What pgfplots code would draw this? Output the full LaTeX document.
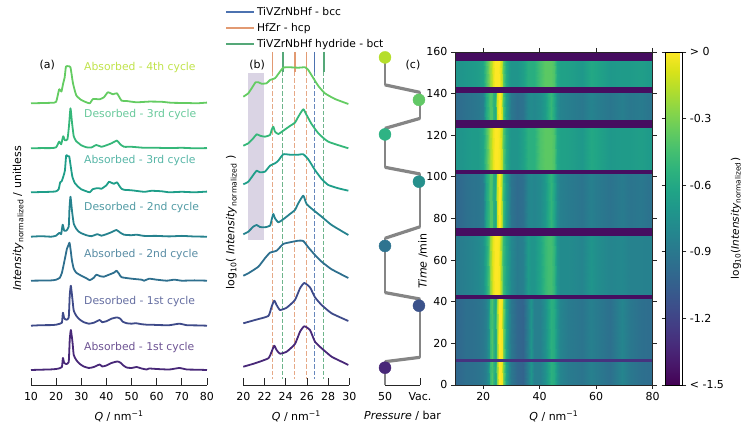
\documentclass[border=0pt]{standalone}
\usepackage{pgfplots}
\usepackage{pgfplotstable}
\usepackage{fontspec}
\setmainfont{DejaVu Sans}
\pgfplotsset{compat=1.18}
\definecolor{cA}{HTML}{482878}
\definecolor{cB}{HTML}{3E4A89}
\definecolor{cC}{HTML}{2E6F8E}
\definecolor{cD}{HTML}{26828E}
\definecolor{cE}{HTML}{1F9E89}
\definecolor{cF}{HTML}{35B779}
\definecolor{cG}{HTML}{64CC62}
\definecolor{cH}{HTML}{B5DE2B}
\definecolor{dB}{HTML}{3B528B}
\definecolor{dC}{HTML}{2F7490}
\definecolor{dD}{HTML}{26908C}
\definecolor{dE}{HTML}{2FB384}
\definecolor{dF}{HTML}{62C866}
\definecolor{vB}{HTML}{4C72B0}
\definecolor{vO}{HTML}{E29A72}
\definecolor{vG}{HTML}{55A878}
\definecolor{pth}{HTML}{858585}
\definecolor{axc}{HTML}{262626}
\newcommand\fs[1]{\fontsize{#1}{#1}\selectfont}
\tikzset{lab/.style={anchor=west,inner sep=0pt,font=\fs{10.8},text=#1}}
\pgfplotsset{
 base/.style={scale only axis,height=333pt,anchor=south west,clip=false,
   /pgf/number format/assume math mode=true,
   tick label style={font=\fs{11}},label style={font=\fs{11}},
   every tick/.style={axc,line width=.8pt},
   axis line style={axc,line width=.8pt},
   major tick length=6.5pt},
 spine/.style={base,axis x line*=bottom,axis y line*=left,x axis line style={-},
   y axis line style={draw=none},ytick=\empty,xtick align=inside,
   x tick label style={yshift=-3.5pt,/pgf/number format/1000 sep={}},
   xlabel style={yshift=-4pt}},
 cv/.style={line width=1.8pt,line join=round,smooth,tension=.3},
 vl/.style={line width=1.1pt,opacity=.85,forget plot,dash pattern=on 4.5pt off 2pt},
 vt/.style={line width=1.4pt},
 dot/.style={only marks,mark=*,mark size=6pt,color=#1},
}
\pgfplotstableread{
Q    P1    P2    P3    P4    P5    P6    S     T
10   -1.00 -0.88 -1.00 -0.72 -0.98 -0.72 -1.45 -1.28
12   -0.98 -0.87 -0.98 -0.72 -0.96 -0.72 -1.45 -1.28
14   -0.95 -0.85 -0.95 -0.70 -0.94 -0.70 -1.45 -1.28
16   -0.95 -0.83 -0.93 -0.68 -0.92 -0.69 -1.45 -1.28
18   -0.93 -0.80 -0.92 -0.68 -0.90 -0.67 -1.45 -1.28
20   -0.90 -0.75 -0.88 -0.62 -0.86 -0.62 -1.45 -1.28
21   -0.85 -0.60 -0.62 -0.45 -0.60 -0.45 -1.45 -1.28
22   -0.72 -0.42 -0.50 -0.28 -0.48 -0.30 -1.45 -1.28
22.5 -0.50 -0.25 -0.42 -0.20 -0.42 -0.22 -1.45 -1.28
23   -0.42 -0.12 -0.42 -0.12 -0.42 -0.14 -1.45 -1.28
23.5 -0.50 -0.05 -0.55 -0.05 -0.52 -0.06 -1.45 -1.28
24   -0.60  0.00 -0.60  0.00 -0.58  0.00 -1.45 -1.28
24.5 -0.55  0.00 -0.52  0.00 -0.48  0.00 -1.45 -1.28
25   -0.25  0.00 -0.12  0.00 -0.10  0.00 -1.45 -1.28
25.5  0.00 -0.02  0.00 -0.02  0.00  0.00 -1.45 -1.28
26    0.00 -0.10 -0.02 -0.05  0.00 -0.05 -1.45 -1.28
26.5 -0.03 -0.30 -0.20 -0.15 -0.12 -0.15 -1.45 -1.28
27   -0.30 -0.48 -0.48 -0.38 -0.42 -0.38 -1.45 -1.28
28   -0.62 -0.62 -0.68 -0.58 -0.66 -0.58 -1.45 -1.28
29   -0.80 -0.72 -0.82 -0.68 -0.80 -0.68 -1.45 -1.28
30   -0.90 -0.80 -0.92 -0.72 -0.90 -0.72 -1.45 -1.28
32   -1.00 -0.88 -0.98 -0.72 -0.96 -0.72 -1.45 -1.28
34   -1.02 -0.85 -0.95 -0.65 -0.93 -0.66 -1.45 -1.28
36   -0.85 -0.68 -0.82 -0.55 -0.80 -0.56 -1.45 -1.28
37   -0.72 -0.72 -0.80 -0.55 -0.78 -0.56 -1.45 -1.28
38   -0.85 -0.72 -0.82 -0.55 -0.80 -0.56 -1.45 -1.28
40   -0.85 -0.62 -0.78 -0.42 -0.76 -0.45 -1.45 -1.28
42   -0.75 -0.50 -0.70 -0.38 -0.68 -0.38 -1.45 -1.28
43   -0.65 -0.46 -0.60 -0.38 -0.58 -0.38 -1.45 -1.28
44   -0.55 -0.45 -0.52 -0.38 -0.50 -0.38 -1.45 -1.28
45   -0.58 -0.52 -0.62 -0.42 -0.60 -0.42 -1.45 -1.28
46   -0.72 -0.72 -0.78 -0.60 -0.76 -0.60 -1.45 -1.28
47   -0.82 -0.78 -0.85 -0.64 -0.83 -0.64 -1.45 -1.28
50   -0.88 -0.78 -0.88 -0.65 -0.86 -0.65 -1.45 -1.28
55   -0.92 -0.82 -0.92 -0.70 -0.90 -0.70 -1.45 -1.28
58   -0.85 -0.72 -0.85 -0.60 -0.83 -0.60 -1.45 -1.28
60   -0.88 -0.76 -0.88 -0.62 -0.86 -0.62 -1.45 -1.28
65   -0.95 -0.82 -0.93 -0.70 -0.91 -0.70 -1.45 -1.28
69   -0.82 -0.80 -0.88 -0.68 -0.86 -0.68 -1.45 -1.28
72   -0.90 -0.84 -0.92 -0.68 -0.90 -0.68 -1.45 -1.28
76   -0.95 -0.84 -0.90 -0.66 -0.88 -0.66 -1.45 -1.28
80   -0.97 -0.85 -0.95 -0.70 -0.93 -0.70 -1.45 -1.28
}\prof
\pgfplotstablevertcat{\proff}{\prof}
\pgfplotstablevertcat{\proff}{\prof}
\newcommand\band[3]{\addplot[surf,shader=interp,mesh/cols=42,point meta=explicit,forget plot]
  table[x=Q,y expr={\coordindex<42 ? #1 : #2},meta=#3] {\proff};}
\begin{document}
\begin{tikzpicture}[x=1pt,y=1pt]
\useasboundingbox (0,0) rectangle (744,427);
% ---------------- panel a
\begin{axis}[spine,at={(31pt,42pt)},width=176pt,xmin=10,xmax=80,ymin=0,ymax=333,
  xtick={10,20,...,80},xlabel={\textit{Q} / nm\textsuperscript{−1}},
  ylabel={\textit{Intensity}\textsubscript{normalized} / unitless},
  ylabel style={yshift=4pt}]
\addplot[cv,cA,yshift=15pt] coordinates {(10,0)(14,.3)(18,.6)(20,1)(21.5,1.8)(22.3,3)(22.7,12)(23.2,7)(24,6)(25,8)(25.4,30)(25.85,40)(26.5,28)(27,15)(28,10)(29,7)(30,5)(31,3.5)(33,2)(35,3)(37.3,5.5)(38.3,3.5)(40,4.5)(42,7)(44.3,8.5)(45.5,7.5)(46.5,5)(48,2.5)(50,2)(52,3)(54,1.5)(56,.5)(57,1.5)(60,1)(65,.5)(69,2)(72,.5)(76,.3)(80,0)};
\addplot[cv,cB,yshift=59.3pt] coordinates {(10,0)(14,.5)(18,.6)(20,1)(21.5,2)(22.3,3)(22.7,13)(23.2,7.5)(24,6)(25,8)(25.4,30)(25.85,40)(26.5,26)(27,15)(28,10)(29,7)(30,5)(31,3.5)(33,2)(35,3)(37.3,5.7)(38.3,3.5)(40,4.5)(42,7)(44.2,8.3)(45.5,7)(46.5,4)(48,2.5)(50,2)(51.6,2.5)(54,1.5)(56,1)(58,1)(60,.7)(65,.5)(69,2)(72,.5)(76,.3)(80,0)};
\addplot[cv,cC,yshift=104.3pt] coordinates {(10,0)(18,.3)(20,1)(21.5,3)(22.3,8)(23,16)(23.8,26)(24.3,32)(24.8,35)(25.3,38)(25.7,32)(26.3,20)(27,12)(28,8)(30,5)(32,2.5)(33.4,.5)(35,3)(36,6)(37.5,4.5)(39,4)(41,6)(43,8)(44,10)(45,7)(46,3.5)(50,2)(54,1)(55,0)(57,2)(60,1)(64,0)(67,1)(70,0)(75,.3)(80,0)};
\addplot[cv,cD,yshift=148.3pt] coordinates {(10,0)(14,.5)(18,0)(20,1)(21.3,4)(22,2.5)(22.6,12)(23.2,6)(24,6)(25,10)(25.3,28)(25.7,40)(26.3,26)(27,13)(28,8)(29,5)(30,3.5)(32,1.5)(34,.5)(36.4,2.5)(38,1)(40,2.5)(42,4.5)(44,6.7)(45.5,4)(47,2)(50,1.5)(52,2)(55,.8)(60,.8)(65,.3)(70,.8)(75,.2)(80,0)};
\addplot[cv,cE,yshift=192.7pt] coordinates {(10,0)(18,.5)(20,1)(21,3)(21.6,10)(22.2,11)(23,17)(23.5,22)(24,37)(24.6,36)(25.2,36)(25.8,26)(26.5,15)(27.5,9)(29,5)(30,3)(32,1)(33.4,0)(34.5,3)(36,4)(37,4)(38,3.5)(40,7)(41,10.5)(42,9.5)(43,8.5)(44.2,10)(45,7)(46,3.5)(47,2.5)(50,2)(55,.5)(58,1.5)(62,1)(65,0)(70,.5)(75,0)(80,.7)};
\addplot[cv,cF,yshift=236.7pt] coordinates {(10,0)(14,.2)(18,.2)(20,1)(21.2,6.7)(22,4)(22.8,12)(23.5,8)(24.5,9)(25.1,22)(25.7,40)(26.3,26)(27,12)(28,7)(29,5)(30,3)(32,1)(34,.8)(36,3.3)(38,1.5)(40,3)(42,5)(44.2,7.7)(45.5,4)(47,1.5)(50,1.5)(55,.5)(60,.5)(65,.2)(70,.5)(75,0)(80,.2)};
\addplot[cv,cG,yshift=281.7pt] coordinates {(10,0)(18,.5)(20,1.5)(21.2,14)(22.1,11.7)(22.8,20)(23.4,26)(23.9,36.7)(24.8,37)(25.7,36)(26.7,20)(28,8)(30,3.3)(32,1)(33.4,0)(34.7,4.3)(37.3,4)(39,6)(40.6,11)(42.6,9)(44.2,10)(46,2.7)(48,2.3)(52,1)(57,1.7)(62,1.5)(66,.5)(72,.3)(76,0)(80,.7)};
\node[lab=cH!85!white] at (axis cs:31.1,317) {Absorbed - 4th cycle};
\node[lab=cF!75!white] at (axis cs:31.1,270) {Desorbed - 3rd cycle};
\node[lab=cE!75!white] at (axis cs:31.1,224) {Absorbed - 3rd cycle};
\node[lab=cD!80!white] at (axis cs:31.1,177) {Desorbed - 2nd cycle};
\node[lab=cC!80!white] at (axis cs:31.1,130) {Absorbed - 2nd cycle};
\node[lab=cB!80!white] at (axis cs:31.1,83) {Desorbed - 1st cycle};
\node[lab=cA!80!white] at (axis cs:31.1,37) {Absorbed - 1st cycle};
\node[font=\fs{11}] at (axis cs:16.5,320) {(a)};
\end{axis}
% ---------------- panel b
\begin{axis}[spine,at={(243.3pt,42pt)},width=106pt,xmin=20,xmax=30,ymin=0,ymax=333,
  xtick={20,22,...,30},xlabel={\textit{Q} / nm\textsuperscript{−1}},
  ylabel={log\textsubscript{10}( \textit{Intensity}\textsubscript{normalized} )},
  ylabel style={yshift=3pt,xshift=-4pt},
  legend cell align=left,
  legend style={at={(axis description cs:-0.167,1.14)},anchor=north west,draw=none,fill=none,
    font=\fs{10.7},row sep=2.3pt,inner sep=0pt,outer sep=0pt},
  legend image code/.code={\path (0pt,0pt) -- (28pt,0pt);\draw[#1] (0pt,-.2pt) -- (23pt,-.2pt);}]
\addplot[fill=cA!20!white,draw=none,forget plot] coordinates {(20.47,145)(21.98,145)(21.98,312.3)(20.47,312.3)};
\addplot[vt,vB] coordinates {(26.7,333)(26.7,313)};
\addplot[vt,vO] coordinates {(22.77,333)(22.77,313)};
\addplot[vt,vG] coordinates {(23.74,333)(23.74,313)};
\addlegendentry{TiVZrNbHf - bcc}
\addlegendentry{HfZr - hcp}
\addlegendentry{TiVZrNbHf hydride - bct}
\addplot[vt,vO,forget plot] coordinates {(24.87,333)(24.87,313)};
\addplot[vt,vO,forget plot] coordinates {(25.94,333)(25.94,313)};
\addplot[vt,vG,forget plot] coordinates {(27.6,333)(27.6,313)};
\addplot[vl,vB] coordinates {(26.7,313)(26.7,6)};
\addplot[vl,vO] coordinates {(22.77,313)(22.77,6)};
\addplot[vl,vO] coordinates {(24.87,313)(24.87,6)};
\addplot[vl,vO] coordinates {(25.94,313)(25.94,6)};
\addplot[vl,vG] coordinates {(23.74,313)(23.74,6)};
\addplot[vl,vG] coordinates {(27.6,313)(27.6,6)};
\addplot[cv,cA,forget plot] coordinates {(20,18.3)(21.1,21.7)(22.36,26.7)(22.67,33.3)(22.92,39.3)(23.14,35)(23.46,31.3)(24.09,33.3)(24.87,41)(25.35,53.3)(25.75,58.7)(26.29,55)(26.76,43.3)(27.39,36.7)(28.33,28.3)(29.28,23.3)(29.91,20)};
\addplot[cv,cB,forget plot] coordinates {(20,61.7)(21.1,65)(22.36,69)(22.67,78.3)(22.92,84.3)(23.14,80)(23.46,75)(24.09,77.3)(24.87,85)(25.35,96.7)(25.75,102)(26.29,97.7)(26.76,87.7)(27.39,80)(28.33,71.7)(29.91,64)};
\addplot[cv,cC,forget plot] coordinates {(20,109.3)(20.47,111.7)(21.42,118.3)(22.04,126.7)(22.52,132.3)(23.14,134.3)(23.77,141)(24.4,142.7)(25.19,144.3)(25.66,144)(26.13,137.7)(26.76,130)(27.39,123.3)(28.33,115.7)(29.91,107)};
\addplot[cv,cD,forget plot] coordinates {(20,150.7)(20.47,153.3)(20.94,158.3)(21.26,160)(21.57,158)(22.04,157.7)(22.52,159.3)(22.67,165)(22.83,171)(22.99,166.7)(23.3,162.7)(23.77,165.7)(24.4,171)(24.87,175)(25.19,181.7)(25.66,189.3)(25.97,181)(26.6,175)(27.39,168.3)(28.33,160)(29.91,150)};
\addplot[cv,cE,forget plot] coordinates {(20,200.7)(20.47,203.3)(20.94,210)(21.26,214.3)(21.57,212.7)(22.04,213.3)(22.52,219.3)(22.99,221.7)(23.3,224.3)(23.77,230.7)(24.4,230.3)(25.19,230.3)(25.66,230.7)(26.13,225.7)(26.76,215)(27.39,206)(28.02,200)(28.96,196.7)(29.91,194.3)};
\addplot[cv,cF,forget plot] coordinates {(20,239.3)(20.47,241.7)(20.94,246.7)(21.26,250.7)(21.57,249.3)(22.04,248.3)(22.52,250)(22.67,255)(22.83,258.3)(22.99,253.3)(23.3,251)(23.77,254.3)(24.4,259)(24.87,262.3)(25.19,268.3)(25.66,275.7)(25.97,270)(26.44,261)(27.08,251.7)(28.02,243.3)(29.91,236.7)};
\addplot[cv,cG,forget plot] coordinates {(20,288.3)(20.47,291.7)(20.85,297.7)(21.16,302.7)(21.42,302.7)(21.73,301.3)(22.2,301.7)(22.52,305)(22.99,306.7)(23.3,311)(23.77,317.3)(24.4,317.7)(25.19,317.3)(25.82,317.7)(26.13,315)(26.6,307)(27.08,299)(27.7,291.7)(28.65,286)(29.91,281)};
\node[font=\fs{11}] at (axis cs:21.3,320) {(b)};
\end{axis}
% ---------------- pressure
\begin{axis}[spine,at={(385pt,42pt)},width=35pt,xmin=0,xmax=1,ymin=0,ymax=160,
  xtick={0,1},xticklabels={50,Vac.},
  xlabel={\textit{Pressure} / bar}]
\addplot[pth,line width=1.8pt,line join=round] coordinates {(0,0)(0,11.2)(1,13.3)(1,41.3)(0,44.4)(0,70.5)(1,76)(1,101.4)(0,104.6)(0,123.3)(1,128.1)(1,140.6)(0,144.2)(0,157.7)};
\addplot[pth,line width=3.2pt] coordinates {(0,11.2)(1,13.3)};
\addplot[pth,line width=3.2pt] coordinates {(1,41.3)(0,44.4)};
\addplot[pth,line width=3.2pt] coordinates {(0,70.5)(1,76)};
\addplot[pth,line width=3.2pt] coordinates {(1,101.4)(0,104.6)};
\addplot[pth,line width=3.2pt] coordinates {(0,123.3)(1,128.1)};
\addplot[pth,line width=3.2pt] coordinates {(1,140.6)(0,144.2)};
\addplot[dot=cA] coordinates {(0,8.3)};
\addplot[dot=dB] coordinates {(.97,38.1)};
\addplot[dot=dC] coordinates {(0,66.8)};
\addplot[dot=dD] coordinates {(.97,97.7)};
\addplot[dot=dE] coordinates {(0,120.4)};
\addplot[dot=dF] coordinates {(.97,137)};
\addplot[dot=cH] coordinates {(0,157.4)};
\node[font=\fs{11}] at (axis cs:.8,153.5) {(c)};
\end{axis}
% ---------------- heat map
\begin{axis}[base,at={(455pt,42pt)},width=197.7pt,xmin=10,xmax=80,ymin=0,ymax=160,clip=true,
  xtick={20,40,60,80},ytick={0,20,...,160},tick align=outside,major tick length=4pt,
  axis on top,
  xlabel={\textit{Q} / nm\textsuperscript{−1}},
  ylabel={\textit{Time} /min},
  ylabel style={at={(axis description cs:-0.162,0.372)},anchor=center},
  xlabel style={yshift=-3pt},
  colormap/viridis,point meta min=-1.5,point meta max=0,
  colorbar,
  colorbar style={at={(1.0657,1)},anchor=north west,width=16.6pt,height=333pt,
    ytick={-1.5,-1.2,-0.9,-0.6,-0.3,0},
    yticklabels={< -1.5,-1.2,-0.9,-0.6,-0.3,> 0},
    tick align=outside,major tick length=4pt,
    ylabel={log\textsubscript{10}(\textit{Intensity}\textsubscript{normalized})},
    ylabel style={font=\fs{10.5}},
    tick label style={font=\fs{11}}}]
\band{0}{11.6}{P1}
\band{12.3}{41.8}{P1}
\band{42.8}{71.8}{P2}
\band{75}{101.8}{P3}
\band{103}{123.8}{P4}
\band{127}{140.8}{P5}
\band{143}{155.9}{P6}
\band{11.4}{12.5}{T}
\band{41.5}{43.1}{S}
\band{71.6}{75.3}{S}
\band{101.5}{103.3}{S}
\band{123.6}{127.2}{S}
\band{140.6}{143.3}{S}
\band{155.7}{160}{S}
\end{axis}
\end{tikzpicture}
\end{document}
